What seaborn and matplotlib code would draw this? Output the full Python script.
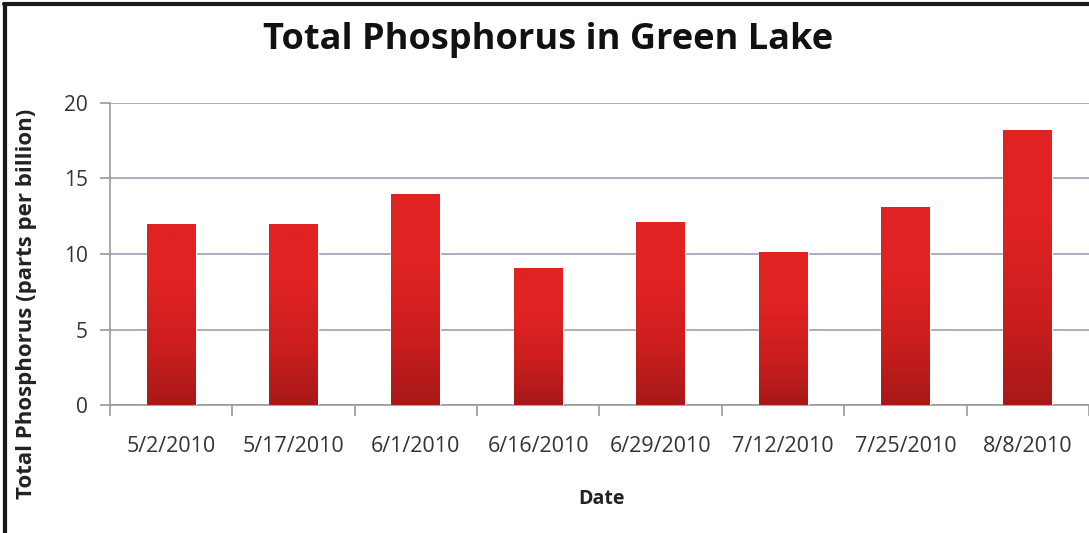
import numpy as np
import pandas as pd
import matplotlib
matplotlib.use("Agg")
import matplotlib.pyplot as plt
import seaborn as sns
from matplotlib.colors import LinearSegmentedColormap
from matplotlib.lines import Line2D

# ---- data ----
dates = ["5/2/2010", "5/17/2010", "6/1/2010", "6/16/2010",
         "6/29/2010", "7/12/2010", "7/25/2010", "8/8/2010"]
phosphorus = [12.0, 12.0, 14.0, 9.1, 12.1, 10.1, 13.1, 18.2]
y_ticks = [0, 5, 10, 15, 20]

title = "Total Phosphorus in Green Lake"
x_label = "Date"
y_label = "Total Phosphorus (parts per billion)"

sns.set_theme(style="white")
plt.rcParams['font.family'] = ['Open Sans', 'DejaVu Sans']

fig = plt.figure(figsize=(10.89, 5.33), dpi=100)
ax = fig.add_axes([0.101, 0.240, 0.899, 0.567])

df = pd.DataFrame({"Date": dates, "Phosphorus": phosphorus})
sns.barplot(data=df, x="Date", y="Phosphorus", color="#d42020",
            width=0.4, saturation=1, ax=ax, zorder=3)

ax.set_xlim(-0.5, len(dates) - 0.5)
ax.set_ylim(0, 20)
ax.set_yticks(y_ticks)

# gradient fill for bars
cmap = LinearSegmentedColormap.from_list("redgrad", ["#a81818", "#cc1e1e", "#e02222", "#e22222"])
grad = np.linspace(0, 1, 256).reshape(-1, 1)
for p in list(ax.patches):
    x0, y0 = p.get_x(), p.get_y()
    w, h = p.get_width(), p.get_height()
    im = ax.imshow(grad, cmap=cmap, origin="lower", aspect="auto",
                   extent=(x0, x0 + w, y0, y0 + h), zorder=4)
    im.set_clip_path(p)
ax.set_xlim(-0.5, len(dates) - 0.5)
ax.set_ylim(0, 20)

ax.yaxis.grid(True, color="#aaa4bc", lw=1.3)
ax.xaxis.grid(False)
ax.set_axisbelow(True)
for s in ["top", "right"]:
    ax.spines[s].set_visible(False)
for s in ["left", "bottom"]:
    ax.spines[s].set_color("#9a9a9a")
    ax.spines[s].set_linewidth(1.2)

ax.tick_params(axis="y", which="major", length=7, width=1.2, color="#9a9a9a",
               labelsize=15, labelcolor="#333333", pad=9, left=True)
ax.tick_params(axis="x", which="major", length=0, labelsize=15.5,
               labelcolor="#333333", pad=22)
ax.set_xticks(np.arange(-0.5, len(dates)), minor=True)
ax.tick_params(axis="x", which="minor", length=8, width=1.2, color="#9a9a9a", bottom=True)

ax.set_xlabel("")
ax.set_ylabel("")

fig.text(0.503, 0.925, title, ha="center", va="center", fontsize=26,
         fontweight="bold", color="#111111")
fig.text(0.552, 0.064, x_label, ha="center", va="center", fontsize=14,
         fontweight="bold", color="#222222")
fig.text(0.024, 0.43, y_label, ha="center", va="center", rotation=90,
         fontsize=16, fontweight="bold", color="#222222")

# frame lines (top and left)
fig.add_artist(Line2D([0.004, 1.0], [0.992, 0.992], transform=fig.transFigure,
                      color="#1a1a1a", lw=3))
fig.add_artist(Line2D([0.005, 0.005], [0.0, 0.993], transform=fig.transFigure,
                      color="#1a1a1a", lw=3))

fig.savefig("out.png", dpi=100)
